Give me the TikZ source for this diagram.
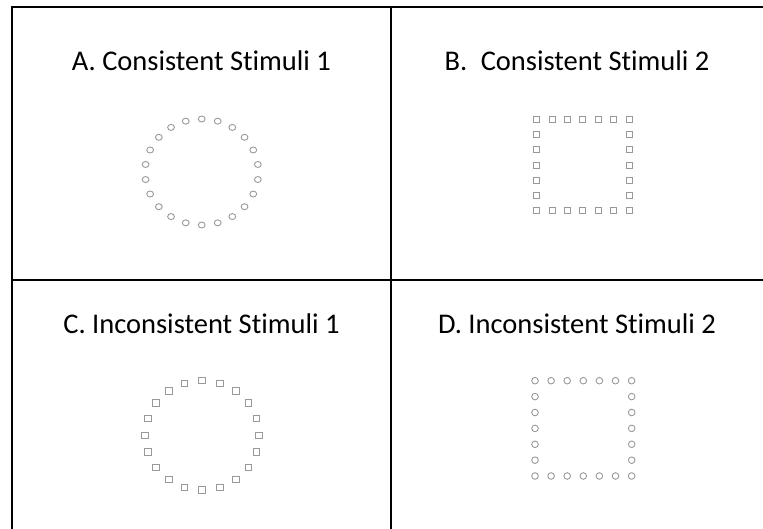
\documentclass[tikz,border=0pt]{standalone}
\usepackage{fontspec}
\setmainfont[Ligatures=NoCommon]{Carlito}
\begin{document}
\begin{tikzpicture}[x=1pt,y=-1pt,
  rule/.style={line width=2pt,black},
  lbl/.style={anchor=base,inner sep=0pt,font=\fontsize{28.5}{34}\selectfont},
  dot/.style={draw=gray!80,line width=0.9pt},
]
\useasboundingbox (0,0) rectangle (763,529);
% grid lines
\coordinate (tl) at (12,7);
\coordinate (tr) at (763,7);
\coordinate (bl) at (12,529);
\coordinate (mt) at (391,7);
\coordinate (mb) at (391,529);
\coordinate (ml) at (12,280);
\coordinate (mr) at (763,280);
\draw[rule] (tr) -- (tl) -- (bl);
\draw[rule] (mt) -- (mb);
\draw[rule] (ml) -- (mr);
% labels
\node[lbl] (a) at (201.5,71) {A. Consistent Stimuli 1};
\node[lbl] (b) at (577,71) {B.\hspace{0.25em} Consistent Stimuli 2};
\node[lbl] (c) at (201.5,334) {C. Inconsistent Stimuli 1};
\node[lbl] (d) at (577,334) {D. Inconsistent Stimuli 2};
% A: circles on a circle
\foreach \k in {0,...,21}{
  \draw[dot] ({201.7+56.7*cos(90+\k*360/22)},{172+53*sin(90+\k*360/22)}) ellipse (3.4 and 3.0);
}
% B: squares on a square
\foreach \i in {0,...,6}{
  \draw[dot] ({536.7+\i*15.4-3},{119.3-3}) rectangle +(6,6);
  \draw[dot] ({536.7+\i*15.4-3},{210.7-3}) rectangle +(6,6);
}
\foreach \j in {1,...,5}{
  \draw[dot] ({536.7-3},{119.3+\j*15.23-3}) rectangle +(6,6);
  \draw[dot] ({629-3},{119.3+\j*15.23-3}) rectangle +(6,6);
}
% C: squares on a circle
\foreach \k in {0,...,19}{
  \draw[dot] ({202.2+57*cos(90+\k*18)-3.3},{435.3+54.7*sin(90+\k*18)-3.3}) rectangle +(6.6,6.6);
}
% D: circles on a square
\foreach \i in {0,...,6}{
  \draw[dot] ({535+\i*16.1},380.7) circle (3.3);
  \draw[dot] ({535+\i*16.1},476) circle (3.3);
}
\foreach \j in {1,...,5}{
  \draw[dot] (535,{380.7+\j*15.9}) circle (3.3);
  \draw[dot] (631.7,{380.7+\j*15.9}) circle (3.3);
}
\end{tikzpicture}
\end{document}
